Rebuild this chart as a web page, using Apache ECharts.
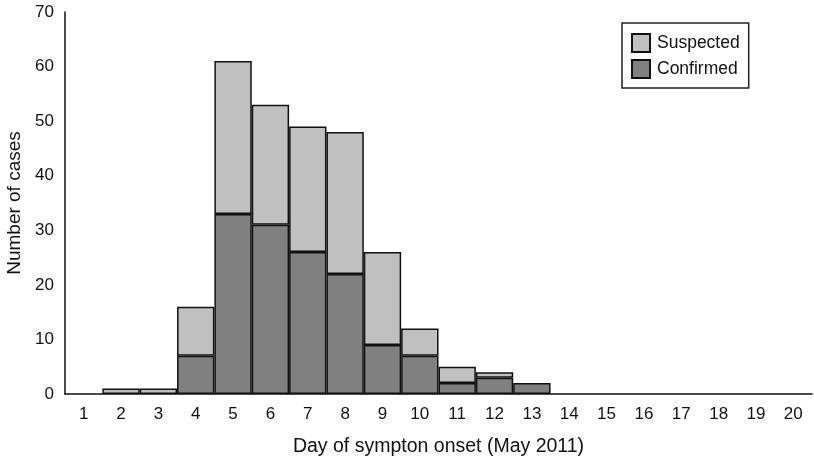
<!DOCTYPE html>
<html>
<head>
<meta charset="utf-8">
<script src="https://cdn.jsdelivr.net/npm/echarts@6/dist/echarts.min.js"></script>
<style>
html,body{margin:0;padding:0;background:#fff;}
#chart{width:814px;height:466px;}
</style>
</head>
<body>
<div id="chart"></div>
<script>
var days = ['1','2','3','4','5','6','7','8','9','10','11','12','13','14','15','16','17','18','19','20'];
var confirmed = ['-','-','-',7,33,31,26,22,9,7,2,3,2,'-','-','-','-','-','-','-'];
var suspected = ['-',1,1,9,28,22,23,26,17,5,3,1,'-','-','-','-','-','-','-','-'];
var yTicks = {min:0, max:70, interval:10};

var font = 'Liberation Sans, Arial, sans-serif';
var chart = echarts.init(document.getElementById('chart'), null, {renderer:'canvas'});
chart.setOption({
  animation:false,
  backgroundColor:'#fff',
  grid:{left:65, right:2, top:12, bottom:72, outerBoundsMode:'none', containLabel:false},
  legend:{
    data:['Suspected','Confirmed'],
    orient:'vertical',
    left:622, top:23,
    icon:'rect',
    borderColor:'#222', borderWidth:1.5, borderRadius:0,
    padding:[10,9,9,9],
    itemWidth:18, itemHeight:18, itemGap:6,
    textStyle:{fontFamily:font, fontSize:17.5, color:'#111', padding:[0,0,0,2]}
  },
  xAxis:{
    type:'category', data:days,
    name:'Day of sympton onset (May 2011)', nameLocation:'middle', nameGap:43,
    nameTextStyle:{fontFamily:font, fontSize:19.5, color:'#111'},
    axisLine:{lineStyle:{color:'#111', width:1.5}},
    axisTick:{show:false},
    axisLabel:{fontFamily:font, fontSize:17, color:'#111', margin:12, interval:0}
  },
  yAxis:{
    type:'value', min:yTicks.min, max:yTicks.max, interval:yTicks.interval,
    name:'Number of cases', nameLocation:'middle', nameGap:41,
    nameTextStyle:{fontFamily:font, fontSize:19, color:'#111'},
    axisLine:{show:true, lineStyle:{color:'#111', width:1.5}},
    axisTick:{show:false},
    splitLine:{show:false},
    axisLabel:{fontFamily:font, fontSize:17, color:'#111', margin:11}
  },
  series:[
    {name:'Confirmed', type:'bar', stack:'cases', data:confirmed, barCategoryGap:'0%',
     itemStyle:{color:'#808080', borderColor:'#111', borderWidth:1.5}},
    {name:'Suspected', type:'bar', stack:'cases', data:suspected, barCategoryGap:'0%',
     itemStyle:{color:'#c0c0c0', borderColor:'#111', borderWidth:1.5}}
  ]
});
</script>
</body>
</html>
